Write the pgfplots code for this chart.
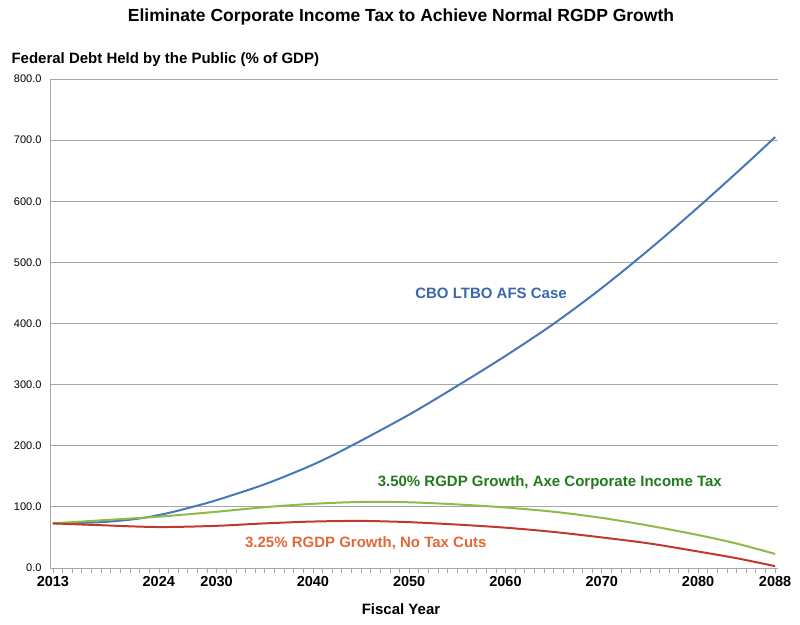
\documentclass[border=0pt]{standalone}
\usepackage{pgfplots}
\pgfplotsset{compat=1.18}
\usepackage{fontspec}
\setmainfont{Liberation Sans}
\definecolor{cbo}{HTML}{4677B8}
\definecolor{cbolbl}{HTML}{3B67AB}
\definecolor{grn}{HTML}{8DBB45}
\definecolor{rd}{HTML}{C0392F}
\definecolor{grnlbl}{HTML}{237A1E}
\definecolor{orglbl}{HTML}{E2683A}
\begin{document}
\begin{tikzpicture}[x=1bp,y=1bp]
\useasboundingbox (-50bp,-57bp) rectangle (750bp,568bp);
\begin{axis}[
  at={(0,0)}, anchor=origin,
  scale only axis, width=728bp, height=489bp,
  xmin=2012.7, xmax=2088.3, ymin=0, ymax=800,
  axis x line=bottom, axis y line=left,
  axis line style={gray!70, line width=0.8pt, -},
  xtick={2013,2024,2030,2040,2050,2060,2070,2080,2088},
  minor xtick={2013,...,2088},
  xticklabel style={font=\fontsize{14.5bp}{16bp}\selectfont\bfseries},
  xticklabel={\pgfmathprintnumber[set thousands separator={}]{\tick}},
  tick align=outside,
  major tick length=5bp, minor tick length=5bp,
  x tick style={gray!70, line width=0.6pt},
  ytick={0,100,...,800},
  y tick style={draw=none},
  yticklabel style={font=\fontsize{11bp}{13bp}\selectfont},
  yticklabel={\pgfmathprintnumber[fixed,fixed zerofill,precision=1]{\tick}},
  /pgf/number format/assume math mode=true,
  ymajorgrids, grid style={gray!70, line width=0.8pt},
  clip=false,
]
\addplot[cbo, line width=2pt, smooth] coordinates {
(2013,73) (2018,75) (2022,81) (2025,90) (2027.5,100) (2030,111) (2035,137) (2040,169) (2044,200) (2050,251) (2055,298) (2060,347) (2065,399.5) (2070,458) (2075,522) (2080,590) (2085,661) (2088,705)};
\addplot[grn, line width=2pt, smooth] coordinates {
(2013,73) (2018,78) (2024,84) (2030,92) (2035,99.5) (2040,105) (2045,108) (2050,107.5) (2055,104) (2060,99) (2065,92) (2070,82) (2075,69) (2080,54) (2084,40) (2088,23)};
\addplot[rd, line width=2pt, smooth] coordinates {
(2013,73) (2018,70) (2024,67) (2030,69) (2035,73) (2040,76) (2045,77) (2050,75) (2055,71) (2060,66) (2065,59) (2070,50) (2075,40) (2080,27) (2084,16) (2088,3)};
\node[cbolbl, font=\fontsize{15bp}{17bp}\selectfont\bfseries] at (axis cs:2058.5,450) {CBO LTBO AFS Case};
\node[grnlbl, font=\fontsize{15bp}{17bp}\selectfont\bfseries] at (axis cs:2064.6,140) {3.50\% RGDP Growth, Axe Corporate Income Tax};
\node[orglbl, font=\fontsize{15bp}{17bp}\selectfont\bfseries] at (axis cs:2045.5,41) {3.25\% RGDP Growth, No Tax Cuts};
\end{axis}
\node[font=\fontsize{17.5bp}{20bp}\selectfont\bfseries] at (351bp,551bp) {Eliminate Corporate Income Tax to Achieve Normal RGDP Growth};
\node[font=\fontsize{15bp}{17bp}\selectfont\bfseries, anchor=west] at (-42bp,508bp) {Federal Debt Held by the Public (\% of GDP)};
\node[font=\fontsize{15bp}{17bp}\selectfont\bfseries] at (351bp,-41bp) {Fiscal Year};
\end{tikzpicture}
\end{document}
